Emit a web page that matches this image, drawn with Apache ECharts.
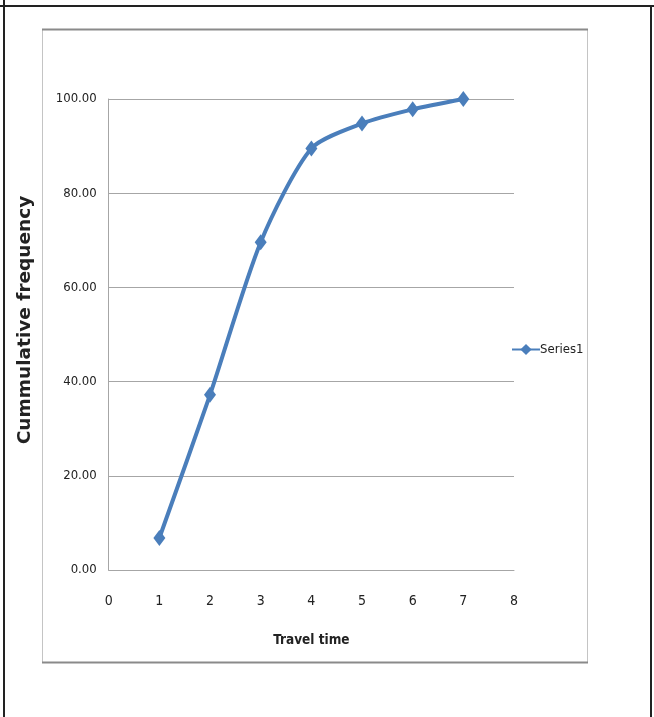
<!DOCTYPE html>
<html>
<head>
<meta charset="utf-8">
<script src="https://cdn.jsdelivr.net/npm/echarts@6/dist/echarts.min.js"></script>
<style>
html,body{margin:0;padding:0;background:#fff;}
#c{width:654px;height:717px;}
</style>
</head>
<body>
<div id="c"></div>
<script>
var travelTime = [1, 2, 3, 4, 5, 6, 7];
var cumFreq = [6.8, 37.2, 69.6, 89.5, 94.8, 97.8, 100];
var seriesName = 'Series1';
var xTitle = 'Travel time';
var yTitle = 'Cummulative frequency';

var narrow = "'DejaVu Sans Condensed', 'Liberation Sans Narrow', sans-serif";
var chart = echarts.init(document.getElementById('c'), null, {renderer: 'canvas'});
var pts = travelTime.map(function (x, i) { return [x, cumFreq[i]]; });

chart.setOption({
  animation: false,
  backgroundColor: '#fff',
  graphic: [
    {type: 'line', shape: {x1: 0, y1: 6, x2: 654, y2: 6}, style: {stroke: '#222', lineWidth: 2}},
    {type: 'line', shape: {x1: 4, y1: 0, x2: 4, y2: 717}, style: {stroke: '#222', lineWidth: 2}},
    {type: 'line', shape: {x1: 651, y1: 6, x2: 651, y2: 717}, style: {stroke: '#222', lineWidth: 2}},
    {type: 'rect', shape: {x: 42.5, y: 29.5, width: 545, height: 633}, style: {fill: 'none', stroke: '#c4c4c4', lineWidth: 1}},
    {type: 'line', shape: {x1: 42, y1: 29.5, x2: 588, y2: 29.5}, style: {stroke: '#8a8a8a', lineWidth: 2}},
    {type: 'line', shape: {x1: 42, y1: 662.5, x2: 588, y2: 662.5}, style: {stroke: '#8a8a8a', lineWidth: 2}},
    {type: 'text', x: 25, y: 320, rotation: Math.PI / 2,
     style: {text: yTitle, font: "bold 18.5px 'DejaVu Sans', sans-serif", fill: '#222', textAlign: 'center', textVerticalAlign: 'middle'}}
  ],
  grid: {left: 108.7, right: 140, top: 99, bottom: 147, containLabel: false},
  legend: {
    left: 506, top: 338, itemWidth: 28, itemHeight: 14, itemGap: 0,
    textStyle: {fontFamily: narrow, fontSize: 13, color: '#222', padding: [0, 0, 0, -5]},
    data: [seriesName]
  },
  xAxis: {
    type: 'value', min: 0, max: 8, interval: 1,
    name: xTitle, nameLocation: 'middle', nameGap: 63,
    nameTextStyle: {fontFamily: narrow, fontWeight: 'bold', fontSize: 13.5, color: '#222'},
    axisLine: {show: true, lineStyle: {color: '#a6a6a6', width: 1}},
    axisTick: {show: false},
    axisLabel: {fontFamily: narrow, fontSize: 14, color: '#222', margin: 24},
    splitLine: {show: false}
  },
  yAxis: {
    type: 'value', min: 0, max: 100, interval: 20,
    axisLine: {show: true, lineStyle: {color: '#a6a6a6', width: 1}},
    axisTick: {show: false},
    axisLabel: {fontFamily: narrow, fontSize: 13, color: '#222', margin: 12,
      formatter: function (v) { return v.toFixed(2); }},
    splitLine: {show: true, lineStyle: {color: '#a6a6a6', width: 1}}
  },
  series: [{
    name: seriesName, type: 'line', data: pts, smooth: 0.25,
    symbol: 'diamond', symbolSize: [12, 16],
    lineStyle: {color: '#4a7ebb', width: 4},
    itemStyle: {color: '#4a7ebb'},
    z: 3
  }]
});
</script>
</body>
</html>
